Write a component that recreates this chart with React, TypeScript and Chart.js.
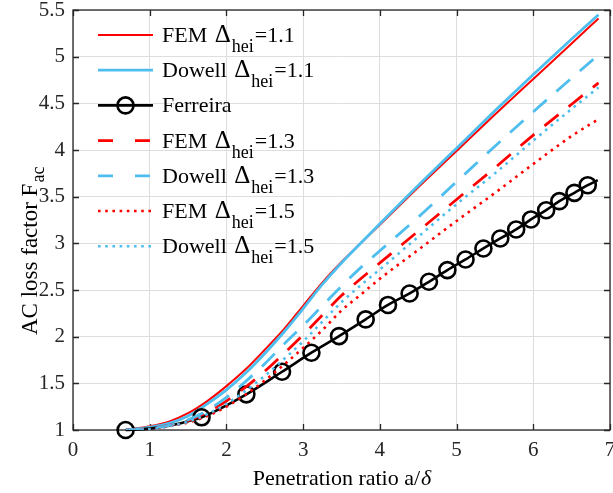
import React, { useEffect, useRef } from 'react';
import { Chart, registerables } from 'chart.js';

Chart.register(...registerables);

// ---------- data ----------
const xTickLabels = ['0', '1', '2', '3', '4', '5', '6', '7'];
const yTickLabels = ['1', '1.5', '2', '2.5', '3', '3.5', '4', '4.5', '5', '5.5'];

const xModel = [0.69, 1.0, 1.25, 1.5, 1.75, 2.0, 2.25, 2.5, 2.75, 3.0, 3.25, 3.5, 3.75, 4.0, 4.5, 5.0, 5.5, 6.0, 6.5, 6.85];
const femD11 = [1.0, 1.04, 1.09, 1.18, 1.31, 1.47, 1.65, 1.86, 2.08, 2.33, 2.58, 2.8, 3.0, 3.2, 3.6, 3.99, 4.38, 4.76, 5.14, 5.41];
const dowellD11 = [1.0, 1.03, 1.07, 1.15, 1.28, 1.43, 1.61, 1.82, 2.05, 2.3, 2.56, 2.79, 3.0, 3.21, 3.62, 4.02, 4.42, 4.81, 5.19, 5.45];
const femD13 = [1.0, 1.02, 1.05, 1.1, 1.19, 1.31, 1.46, 1.63, 1.82, 2.02, 2.23, 2.44, 2.62, 2.79, 3.13, 3.47, 3.81, 4.16, 4.49, 4.72];
const dowellD13 = [1.0, 1.02, 1.05, 1.11, 1.21, 1.35, 1.52, 1.71, 1.92, 2.12, 2.33, 2.54, 2.74, 2.92, 3.28, 3.66, 4.04, 4.41, 4.77, 5.02];
const femD15 = [1.0, 1.01, 1.04, 1.08, 1.15, 1.25, 1.38, 1.53, 1.7, 1.88, 2.07, 2.28, 2.45, 2.62, 2.93, 3.24, 3.54, 3.85, 4.15, 4.33];
const dowellD15 = [1.0, 1.01, 1.04, 1.09, 1.17, 1.28, 1.42, 1.58, 1.76, 1.95, 2.16, 2.37, 2.55, 2.72, 3.07, 3.42, 3.75, 4.1, 4.44, 4.67];

const xFerreira = [0.686, 1.0, 1.25, 1.5, 1.676, 2.26, 2.725, 3.108, 3.468, 3.815, 4.106, 4.388, 4.64, 4.88, 5.117, 5.35, 5.57, 5.777, 5.97, 6.168, 6.34, 6.536, 6.71, 6.84];
const ferreira = [1.0, 1.015, 1.045, 1.095, 1.136, 1.382, 1.624, 1.828, 2.006, 2.185, 2.34, 2.463, 2.588, 2.713, 2.827, 2.945, 3.052, 3.149, 3.256, 3.355, 3.452, 3.541, 3.623, 3.677];
const ferreiraMarker = [1, 0, 0, 0, 1, 1, 1, 1, 1, 1, 1, 1, 1, 1, 1, 1, 1, 1, 1, 1, 1, 1, 1, 0];

const legendMain = ['FEM', 'Dowell', 'Ferreira', 'FEM', 'Dowell', 'FEM', 'Dowell'];
const legendSymbol = ['Δ', 'Δ', '', 'Δ', 'Δ', 'Δ', 'Δ'];
const legendSub = ['hei', 'hei', '', 'hei', 'hei', 'hei', 'hei'];
const legendSuffix = ['=1.1', '=1.1', '', '=1.3', '=1.3', '=1.5', '=1.5'];

const xTitle = 'Penetration ratio a/';
const xTitleItalic = 'δ';
const yTitle = 'AC loss factor F';
const yTitleSub = 'ac';

// ---------- styles ----------
const RED = '#ff0000';
const BLUE = '#4dbeee';
const FONT = '"Liberation Serif", "Times New Roman", serif';

const series = [
  { ys: femD11, xs: xModel, color: RED, width: 2, dash: [] as number[], legendDash: [] as number[] },
  { ys: dowellD11, xs: xModel, color: BLUE, width: 2.8, dash: [], legendDash: [] },
  { ys: ferreira, xs: xFerreira, color: '#000000', width: 2.6, dash: [], legendDash: [] },
  { ys: femD13, xs: xModel, color: RED, width: 2.8, dash: [18, 13], legendDash: [15, 22] },
  { ys: dowellD13, xs: xModel, color: BLUE, width: 2.8, dash: [18, 13], legendDash: [15, 22] },
  { ys: femD15, xs: xModel, color: RED, width: 2.6, dash: [2.6, 4.8], legendDash: [2.6, 4.6] },
  { ys: dowellD15, xs: xModel, color: BLUE, width: 2.6, dash: [2.6, 4.8], legendDash: [2.6, 4.6] },
];

const overlayPlugin = {
  id: 'overlay',
  beforeDatasetsDraw(chart: any) {
    const { ctx, chartArea: a, scales } = chart;
    ctx.save();
    ctx.strokeStyle = '#262626';
    ctx.lineWidth = 1.3;
    ctx.strokeRect(a.left, a.top, a.right - a.left, a.bottom - a.top);
    const tl = 6;
    ctx.beginPath();
    scales.x.ticks.forEach((t: any) => {
      const px = Math.round(scales.x.getPixelForValue(t.value)) + 0.5;
      ctx.moveTo(px, a.bottom); ctx.lineTo(px, a.bottom - tl);
      ctx.moveTo(px, a.top); ctx.lineTo(px, a.top + tl);
    });
    scales.y.ticks.forEach((t: any) => {
      const py = Math.round(scales.y.getPixelForValue(t.value)) + 0.5;
      ctx.moveTo(a.left, py); ctx.lineTo(a.left + tl, py);
      ctx.moveTo(a.right, py); ctx.lineTo(a.right - tl, py);
    });
    ctx.stroke();
    ctx.restore();
  },
  afterDraw(chart: any) {
    const { ctx, chartArea: a } = chart;
    ctx.save();
    ctx.fillStyle = '#000';
    ctx.textBaseline = 'alphabetic';
    ctx.textAlign = 'left';
    // legend
    const lx0 = 98, lx1 = 153, tx = 162;
    series.forEach((s, i) => {
      const y = 35 + i * 35.2;
      ctx.save();
      ctx.strokeStyle = s.color;
      ctx.lineWidth = s.width;
      ctx.setLineDash(s.legendDash);
      ctx.beginPath();
      ctx.moveTo(lx0, y); ctx.lineTo(lx1, y);
      ctx.stroke();
      ctx.setLineDash([]);
      if (i === 2) {
        ctx.beginPath();
        ctx.arc((lx0 + lx1) / 2, y, 8, 0, Math.PI * 2);
        ctx.stroke();
      }
      ctx.restore();
      let x = tx;
      const base = y + 7;
      ctx.font = `22px ${FONT}`;
      ctx.fillText(legendMain[i], x, base);
      x += ctx.measureText(legendMain[i]).width;
      if (legendSymbol[i]) {
        x += ctx.measureText(' ').width + 2;
        ctx.font = `25px ${FONT}`;
        ctx.fillText(legendSymbol[i], x, base);
        x += ctx.measureText(legendSymbol[i]).width + 1;
        ctx.font = `18px ${FONT}`;
        ctx.fillText(legendSub[i], x, base + 10);
        x += ctx.measureText(legendSub[i]).width + 1;
        ctx.font = `22px ${FONT}`;
        ctx.fillText(legendSuffix[i], x, base);
      }
    });
    // x title
    ctx.font = `22px ${FONT}`;
    const w1 = ctx.measureText(xTitle).width;
    ctx.font = `italic 22px ${FONT}`;
    const w2 = ctx.measureText(xTitleItalic).width;
    const cx = (a.left + a.right) / 2;
    const sx = cx - (w1 + w2) / 2;
    ctx.font = `22px ${FONT}`;
    ctx.fillText(xTitle, sx, 485);
    ctx.font = `italic 22px ${FONT}`;
    ctx.fillText(xTitleItalic, sx + w1 + 1, 485);
    // y title
    ctx.save();
    ctx.translate(37, 335);
    ctx.rotate(-Math.PI / 2);
    ctx.font = `23px ${FONT}`;
    ctx.fillText(yTitle, 0, 0);
    const wy = ctx.measureText(yTitle).width;
    ctx.font = `18px ${FONT}`;
    ctx.fillText(yTitleSub, wy + 1, 7);
    ctx.restore();
    ctx.restore();
  },
};

export default function App() {
  const ref = useRef<HTMLCanvasElement>(null);
  useEffect(() => {
    const datasets: any[] = series.map((s, i) => ({
      label: legendMain[i] + legendSymbol[i] + legendSub[i] + legendSuffix[i],
      data: s.xs.map((x, j) => ({ x, y: s.ys[j] })),
      borderColor: s.color,
      backgroundColor: 'rgba(0,0,0,0)',
      borderWidth: s.width,
      borderDash: s.dash,
      borderCapStyle: 'butt',
      fill: false,
      cubicInterpolationMode: 'monotone',
      pointRadius: i === 2 ? ferreiraMarker.map((m) => (m ? 8 : 0)) : 0,
      pointBorderWidth: 2.6,
      pointBorderColor: '#000',
      pointBackgroundColor: 'rgba(0,0,0,0)',
      order: series.length - i,
      clip: i === 2 ? false : undefined,
    }));
    const tickFont = { family: FONT, size: 21 };
    const chart = new Chart(ref.current!, {
      type: 'line',
      data: { datasets },
      options: {
        responsive: false,
        animation: false,
        devicePixelRatio: 1,
        layout: { autoPadding: false, padding: { top: 10, right: 3, left: 0, bottom: 0 } },
        plugins: { legend: { display: false }, tooltip: { enabled: false } },
        scales: {
          x: {
            type: 'linear',
            min: 0,
            max: 7,
            ticks: {
              stepSize: 1,
              font: tickFont,
              color: '#262626',
              padding: 8,
              maxRotation: 0,
              autoSkip: false,
              callback: (_v: any, i: number) => xTickLabels[i],
            },
            grid: { color: '#dedede', lineWidth: 1, drawTicks: false },
            border: { display: false },
            afterFit: (s: any) => {
              s.height = 63;
              s.paddingLeft = 0;
              s.paddingRight = 0;
            },
          },
          y: {
            type: 'linear',
            min: 1,
            max: 5.5,
            ticks: {
              stepSize: 0.5,
              font: tickFont,
              color: '#262626',
              padding: 8,
              autoSkip: false,
              callback: (_v: any, i: number) => yTickLabels[i],
            },
            grid: { color: '#dedede', lineWidth: 1, drawTicks: false },
            border: { display: false },
            afterFit: (s: any) => {
              s.width = 73;
              s.paddingTop = 0;
              s.paddingBottom = 0;
            },
          },
        },
      } as any,
      plugins: [overlayPlugin],
    });
    return () => chart.destroy();
  }, []);
  return (
    <div style={{ position: 'absolute', left: 0, top: 0, width: 613, height: 493, background: '#fff' }}>
      <canvas ref={ref} width={613} height={493} style={{ display: 'block' }} />
    </div>
  );
}
